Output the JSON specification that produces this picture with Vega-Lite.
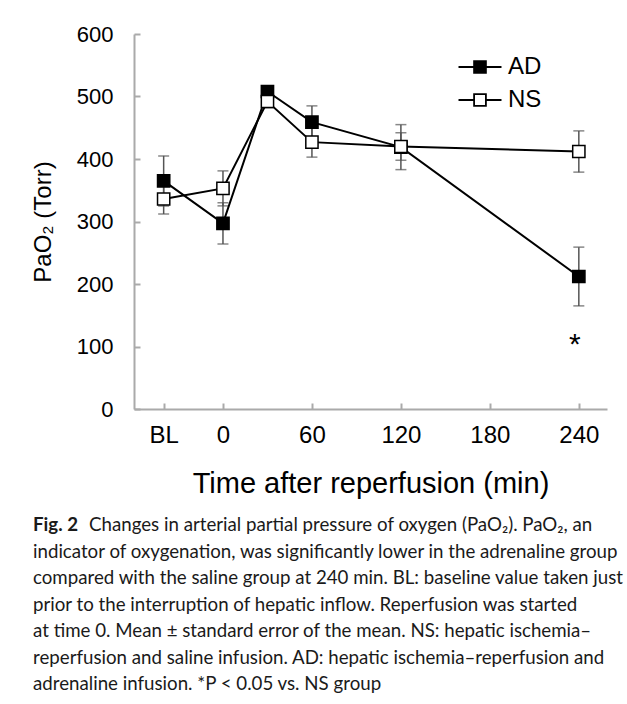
{
  "$schema": "https://vega.github.io/schema/vega-lite/v6.json",
  "width": 473,
  "height": 375,
  "autosize": "none",
  "padding": {"left": 134, "top": 34, "right": 20, "bottom": 295},
  "background": "white",
  "config": {"view": {"stroke": null}, "font": "Liberation Sans"},
  "title": {
    "text": "Fig. 2",
    "orient": "bottom",
    "anchor": "start",
    "frame": "group",
    "dx": -101,
    "offset": 18,
    "font": "Lato",
    "fontSize": 18.7,
    "fontWeight": "bold",
    "color": "#1a1a1a",
    "subtitle": [
      "\u2800\u2800\u2800\u2800Changes in arterial partial pressure of oxygen (PaO\u2082). PaO\u2082, an",
      "indicator of oxygenation, was significantly lower in the adrenaline group",
      "compared with the saline group at 240 min. BL: baseline value taken just",
      "prior to the interruption of hepatic inflow. Reperfusion was started",
      "at time 0. Mean \u00b1 standard error of the mean. NS: hepatic ischemia\u2013",
      "reperfusion and saline infusion. AD: hepatic ischemia\u2013reperfusion and",
      "adrenaline infusion. *P < 0.05 vs. NS group"
    ],
    "subtitleFont": "Lato",
    "subtitleFontSize": 18.7,
    "subtitleFontWeight": "normal",
    "subtitleLineHeight": 26.5,
    "subtitlePadding": -18.7,
    "subtitleColor": "#1a1a1a"
  },
  "datasets": {
    "pao2": [
      {"group": "AD", "time": -40, "value": 365, "lo": 325, "hi": 405},
      {"group": "AD", "time": 0, "value": 297, "lo": 264, "hi": 330},
      {"group": "AD", "time": 30, "value": 508, "lo": 500, "hi": 516},
      {"group": "AD", "time": 60, "value": 459, "lo": 433, "hi": 485},
      {"group": "AD", "time": 120, "value": 419, "lo": 383, "hi": 455},
      {"group": "AD", "time": 240, "value": 212, "lo": 165, "hi": 259},
      {"group": "NS", "time": -40, "value": 336, "lo": 312, "hi": 360},
      {"group": "NS", "time": 0, "value": 353, "lo": 325, "hi": 381},
      {"group": "NS", "time": 30, "value": 492, "lo": 482, "hi": 502},
      {"group": "NS", "time": 60, "value": 427, "lo": 403, "hi": 451},
      {"group": "NS", "time": 120, "value": 420, "lo": 398, "hi": 442},
      {"group": "NS", "time": 240, "value": 412, "lo": 379, "hi": 445}
    ]
  },
  "data": {"name": "pao2"},
  "encoding": {
    "x": {
      "field": "time",
      "type": "quantitative",
      "scale": {"domain": [-60, 259], "nice": false, "zero": false},
      "axis": {
        "title": "Time after reperfusion (min)",
        "titleFontSize": 29,
        "titleFontWeight": "normal",
        "titleColor": "black",
        "titlePadding": 22,
        "values": [-40, 0, 60, 120, 180, 240],
        "labelExpr": "datum.value == -40 ? 'BL' : datum.label",
        "labelFontSize": 24,
        "labelColor": "black",
        "labelPadding": 20,
        "tickSize": -6,
        "tickColor": "#aaa",
        "domainColor": "#aaa",
        "domainWidth": 2,
        "tickWidth": 2,
        "grid": false
      }
    }
  },
  "layer": [
    {
      "mark": {"type": "errorbar", "ticks": {"size": 11}, "color": "#555", "thickness": 1.5},
      "encoding": {
        "y": {
          "field": "lo",
          "type": "quantitative",
          "scale": {"domain": [0, 600], "nice": false},
          "axis": {
            "title": "PaO\u2082 (Torr)",
            "titleFontSize": 24,
            "titleFontWeight": "normal",
            "titleColor": "black",
            "titlePadding": 21,
            "values": [0, 100, 200, 300, 400, 500, 600],
            "labelFontSize": 22,
            "labelColor": "black",
            "labelPadding": 27,
            "tickSize": -6,
            "tickColor": "#aaa",
            "domainColor": "#aaa",
            "domainWidth": 2,
            "tickWidth": 2,
            "grid": false
          }
        },
        "y2": {"field": "hi"}
      }
    },
    {
      "mark": {"type": "line", "color": "black", "strokeWidth": 2},
      "encoding": {
        "y": {"field": "value", "type": "quantitative"},
        "detail": {"field": "group"}
      }
    },
    {
      "mark": {"type": "point", "shape": "square", "filled": true, "size": 150, "stroke": "black", "strokeWidth": 1.5, "opacity": 1},
      "encoding": {
        "y": {"field": "value", "type": "quantitative"},
        "fill": {
          "field": "group",
          "type": "nominal",
          "scale": {"domain": ["AD", "NS"], "range": ["black", "white"]},
          "legend": {
            "orient": "none",
            "legendX": 334,
            "legendY": 21,
            "title": null,
            "padding": 0,
            "labelFontSize": 24,
            "labelColor": "black",
            "labelOffset": 16,
            "rowPadding": 9,
            "symbolType": "M-2,0H-0.55M0.55,0H2M-0.55,-0.55H0.55V0.55H-0.55Z",
            "symbolSize": 462,
            "symbolStrokeColor": "black",
            "symbolStrokeWidth": 1.8,
            "symbolOpacity": 1
          }
        }
      }
    },
    {
      "data": {"values": [{"time": 240, "value": 110, "label": "*"}]},
      "mark": {"type": "text", "fontSize": 30, "color": "black", "baseline": "middle", "dx": -4, "dy": 5},
      "encoding": {
        "y": {"field": "value", "type": "quantitative"},
        "text": {"field": "label"}
      }
    }
  ]
}
